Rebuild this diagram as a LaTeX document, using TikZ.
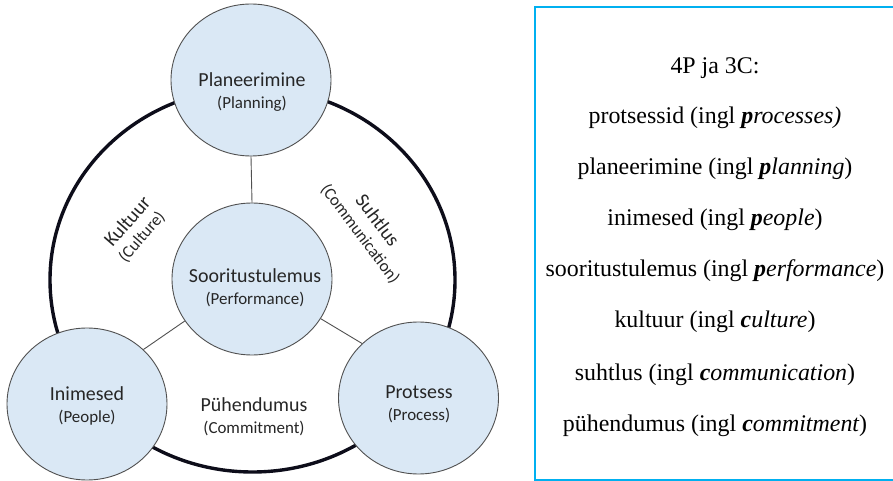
\documentclass[tikz,border=0pt]{standalone}
\usepackage{fontspec}
\setmainfont{Liberation Serif}
\newfontfamily\calfont{Carlito}
\usetikzlibrary{shapes.geometric}
\definecolor{cfill}{RGB}{218,232,245}
\definecolor{cline}{RGB}{80,80,80}
\definecolor{boxblue}{RGB}{0,176,240}
\definecolor{ctext}{RGB}{38,38,38}
\definecolor{ringc}{RGB}{13,13,26}
\newcommand{\bip}[2]{{\bfseries\itshape #1}{\itshape #2}}
\begin{document}
\begin{tikzpicture}[x=1bp,y=-1bp,
  bubble/.style={ellipse, draw=cline, line width=0.9bp, fill=cfill,
    minimum width=160bp, minimum height=152bp, inner sep=0pt},
  lbltitle/.style={font=\calfont\fontsize{20}{23}\selectfont, text=ctext, anchor=base, inner sep=0pt},
  lblsub/.style={font=\calfont\fontsize{17}{20}\selectfont, text=ctext, anchor=base, inner sep=0pt},
  arctitle/.style={font=\calfont\fontsize{20}{22}\selectfont, text=ctext, inner sep=0pt},
  arcsub/.style={font=\calfont\fontsize{17}{20}\selectfont, text=ctext, inner sep=0pt},
  link/.style={draw=cline, line width=0.9bp},
  listitem/.style={font=\fontsize{24}{28}\selectfont, anchor=base, inner sep=0pt, text=black}
]
\useasboundingbox (0,0) rectangle (893,481);
% outer ring
\draw[line width=3.4bp, ringc] (252.5,280) ellipse [x radius=202.5bp, y radius=192bp];
% bubbles
\node[bubble] (plan) at (251,80) {};
\node[bubble] (perf) at (252,279) {};
\node[bubble] (peop) at (87,404) {};
\node[bubble] (proc) at (418.5,398) {};
% connectors
\draw[link] (plan.south) -- (perf.north);
\draw[link] (perf.212) -- (peop.44);
\draw[link] (perf.330) -- (proc.136);
% bubble labels
\node[lbltitle] (planT) at (252,87) {Planeerimine};
\node[lblsub] (planS) at (252,109) {(Planning)};
\node[lbltitle] (perfT) at (255,283) {Sooritustulemus};
\node[lblsub] (perfS) at (255,305) {(Performance)};
\node[lbltitle] (peopT) at (87,400) {Inimesed};
\node[lblsub] (peopS) at (87,422) {(People)};
\node[lbltitle] (procT) at (419,398) {Protsess};
\node[lblsub] (procS) at (419,420) {(Process)};
\node[lbltitle] (commitT) at (254,411) {Pühendumus};
\node[lblsub] (commitS) at (254,433) {(Commitment)};
% arc labels
\node[arctitle, rotate=49] (cultT) at (127,221) {Kultuur};
\node[arcsub, rotate=49] (cultS) at (142,237) {(Culture)};
\node[arctitle, rotate=-53] (commT) at (378,220) {Suhtlus};
\node[arcsub, rotate=-53] (commS) at (360,234) {(Communication)};
% text box (right side lies beyond the picture edge)
\draw[boxblue, line width=2.5bp] (905,7) -- (535,7) -- (535,480) -- (905,480);
\node[listitem] (l0) at (715,74) {4P ja 3C:};
\node[listitem] (l1) at (715,124) {protsessid (ingl \bip{p}{rocesses)}};
\node[listitem] (l2) at (715,175) {planeerimine (ingl \bip{p}{lanning})};
\node[listitem] (l3) at (715,226) {inimesed (ingl \bip{p}{eople})};
\node[listitem] (l4) at (715,277) {sooritustulemus (ingl \bip{p}{erformance})};
\node[listitem] (l5) at (715,328) {kultuur (ingl \bip{c}{ulture})};
\node[listitem] (l6) at (715,380) {suhtlus (ingl \bip{c}{ommunication})};
\node[listitem] (l7) at (715,431) {pühendumus (ingl \bip{c}{ommitment})};
\end{tikzpicture}
\end{document}
